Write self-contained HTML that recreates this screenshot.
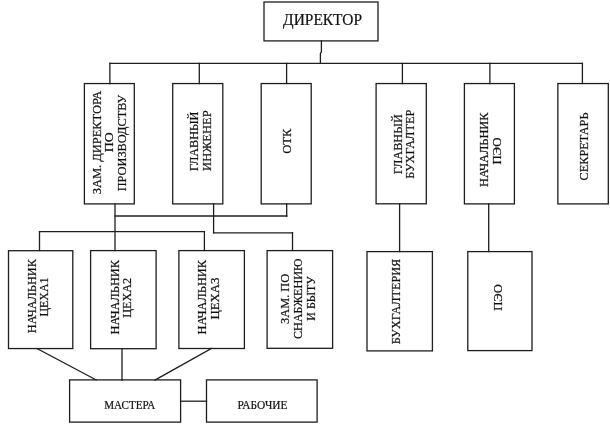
<!DOCTYPE html>
<html><head><meta charset="utf-8"><title>Org chart</title>
<style>
html,body{margin:0;padding:0;background:#fff;}
svg{display:block;filter:grayscale(1)}
text{font-family:"Liberation Serif",serif;fill:#111;stroke:#111;stroke-width:0.22}
</style></head>
<body>
<svg width="610" height="447" viewBox="0 0 610 447">
<rect width="610" height="447" fill="#fff"/>
<g fill="none" stroke="#1e1e1e" stroke-width="1.3" stroke-linecap="square" stroke-linejoin="miter">
<rect x="264" y="2" width="114" height="38.9"/>
<rect x="84.4" y="83.55" width="49.9" height="120.35"/>
<rect x="172.7" y="83.55" width="50.1" height="120.35"/>
<rect x="261.2" y="83.55" width="50.0" height="120.35"/>
<rect x="376.1" y="83.55" width="50.2" height="120.25"/>
<rect x="464.4" y="83.55" width="50.0" height="120.35"/>
<rect x="557.85" y="83.55" width="50.45" height="120.35"/>
<rect x="8.5" y="250.7" width="64.3" height="97.85"/>
<rect x="90.6" y="250.6" width="65.5" height="98.1"/>
<rect x="178.9" y="250.6" width="65.5" height="97.9"/>
<rect x="267.1" y="250.6" width="65.5" height="97.7"/>
<rect x="367.0" y="251.6" width="65.4" height="99.3"/>
<rect x="467.8" y="251.6" width="64.2" height="99.0"/>
<rect x="69.6" y="379.9" width="111.0" height="42.2"/>
<rect x="206.5" y="379.9" width="110.6" height="42.2"/>
<line x1="109.9" y1="63.4" x2="582.4" y2="63.4"/>
<line x1="109.9" y1="63.4" x2="109.9" y2="83.5"/>
<line x1="199.3" y1="63.4" x2="199.3" y2="83.5"/>
<line x1="286.6" y1="63.4" x2="286.6" y2="83.5"/>
<line x1="402.4" y1="63.4" x2="402.4" y2="83.5"/>
<line x1="489.9" y1="63.4" x2="489.9" y2="83.5"/>
<line x1="582.4" y1="63.4" x2="582.4" y2="83.5"/>
<line x1="115" y1="204" x2="115" y2="250.5"/>
<line x1="115" y1="216" x2="286.7" y2="216"/>
<line x1="286.7" y1="204" x2="286.7" y2="216"/>
<line x1="39.5" y1="231.7" x2="204.4" y2="231.7"/>
<line x1="39.5" y1="231.7" x2="39.5" y2="250.5"/>
<line x1="204.4" y1="231.7" x2="204.4" y2="250.5"/>
<line x1="213.6" y1="204" x2="213.6" y2="232.8"/>
<line x1="213.6" y1="232.8" x2="292.5" y2="232.8"/>
<line x1="292.5" y1="232.8" x2="292.5" y2="250.5"/>
<line x1="399.6" y1="204" x2="399.6" y2="251.6"/>
<line x1="488.7" y1="204" x2="488.7" y2="251.6"/>
<line x1="37" y1="348.6" x2="96.2" y2="379.9"/>
<line x1="122" y1="348.7" x2="122" y2="380"/>
<line x1="211.5" y1="348.5" x2="155" y2="380"/>
<line x1="180.6" y1="401.2" x2="206.5" y2="401.2"/>
<polyline points="321.4,41 321.4,51.8 320.4,53.4 320.4,63.4"/>
</g>
<text transform="translate(101.4 194.2) rotate(-90)" font-size="12.6" textLength="103.51" lengthAdjust="spacingAndGlyphs">ЗАМ. ДИРЕКТОРА</text>
<text transform="translate(113.1 152.3) rotate(-90)" font-size="12.6" textLength="20.15" lengthAdjust="spacingAndGlyphs">ПО</text>
<text transform="translate(126.2 191.3) rotate(-90)" font-size="12.6" textLength="96.51" lengthAdjust="spacingAndGlyphs">ПРОИЗВОДСТВУ</text>
<text transform="translate(198.1 171.1) rotate(-90)" font-size="12.6" textLength="59.52" lengthAdjust="spacingAndGlyphs">ГЛАВНЫЙ</text>
<text transform="translate(211.2 170.9) rotate(-90)" font-size="12.6" textLength="60.52" lengthAdjust="spacingAndGlyphs">ИНЖЕНЕР</text>
<text transform="translate(291.2 153.8) rotate(-90)" font-size="12.6" textLength="25.02" lengthAdjust="spacingAndGlyphs">ОТК</text>
<text transform="translate(401.6 174.2) rotate(-90)" font-size="12.6" textLength="60.03" lengthAdjust="spacingAndGlyphs">ГЛАВНЫЙ</text>
<text transform="translate(414.2 178.7) rotate(-90)" font-size="12.6" textLength="69.01" lengthAdjust="spacingAndGlyphs">БУХГАЛТЕР</text>
<text transform="translate(488.1 187.0) rotate(-90)" font-size="12.6" textLength="74.51" lengthAdjust="spacingAndGlyphs">НАЧАЛЬНИК</text>
<text transform="translate(500.6 164.6) rotate(-90)" font-size="12.6" textLength="27.02" lengthAdjust="spacingAndGlyphs">ПЭО</text>
<text transform="translate(587.6 180.5) rotate(-90)" font-size="12.6" textLength="68.01" lengthAdjust="spacingAndGlyphs">СЕКРЕТАРЬ</text>
<text transform="translate(35.65 333.2) rotate(-90)" font-size="12.6" textLength="74.02" lengthAdjust="spacingAndGlyphs">НАЧАЛЬНИК</text>
<text transform="translate(48.4 316.5) rotate(-90)" font-size="12.6" textLength="39.03" lengthAdjust="spacingAndGlyphs">ЦЕХА1</text>
<text transform="translate(118.5 334.5) rotate(-90)" font-size="12.6" textLength="74.52" lengthAdjust="spacingAndGlyphs">НАЧАЛЬНИК</text>
<text transform="translate(131.1 317.8) rotate(-90)" font-size="12.6" textLength="40.02" lengthAdjust="spacingAndGlyphs">ЦЕХА2</text>
<text transform="translate(205.5 334.5) rotate(-90)" font-size="12.6" textLength="74.52" lengthAdjust="spacingAndGlyphs">НАЧАЛЬНИК</text>
<text transform="translate(218.6 319.6) rotate(-90)" font-size="12.6" textLength="42.01" lengthAdjust="spacingAndGlyphs">ЦЕХА3</text>
<text transform="translate(288.9 323.9) rotate(-90)" font-size="12.6" textLength="50.01" lengthAdjust="spacingAndGlyphs">ЗАМ. ПО</text>
<text transform="translate(301.9 339.1) rotate(-90)" font-size="12.6" textLength="80.51" lengthAdjust="spacingAndGlyphs">СНАБЖЕНИЮ</text>
<text transform="translate(314.5 320.7) rotate(-90)" font-size="12.6" textLength="44.51" lengthAdjust="spacingAndGlyphs">И БЫТУ</text>
<text transform="translate(400.3 344.3) rotate(-90)" font-size="12.6" textLength="85.51" lengthAdjust="spacingAndGlyphs">БУХГАЛТЕРИЯ</text>
<text transform="translate(501.7 310.7) rotate(-90)" font-size="12.6" textLength="26.59" lengthAdjust="spacingAndGlyphs">ПЭО</text>
<text x="283.1" y="24.5" font-size="16.6" textLength="79.01" lengthAdjust="spacingAndGlyphs">ДИРЕКТОР</text>
<text x="104.2" y="408.6" font-size="13.3" textLength="51.01" lengthAdjust="spacingAndGlyphs">МАСТЕРА</text>
<text x="237.5" y="408.6" font-size="13.3" textLength="50.02" lengthAdjust="spacingAndGlyphs">РАБОЧИЕ</text>
</svg>
</body></html>
